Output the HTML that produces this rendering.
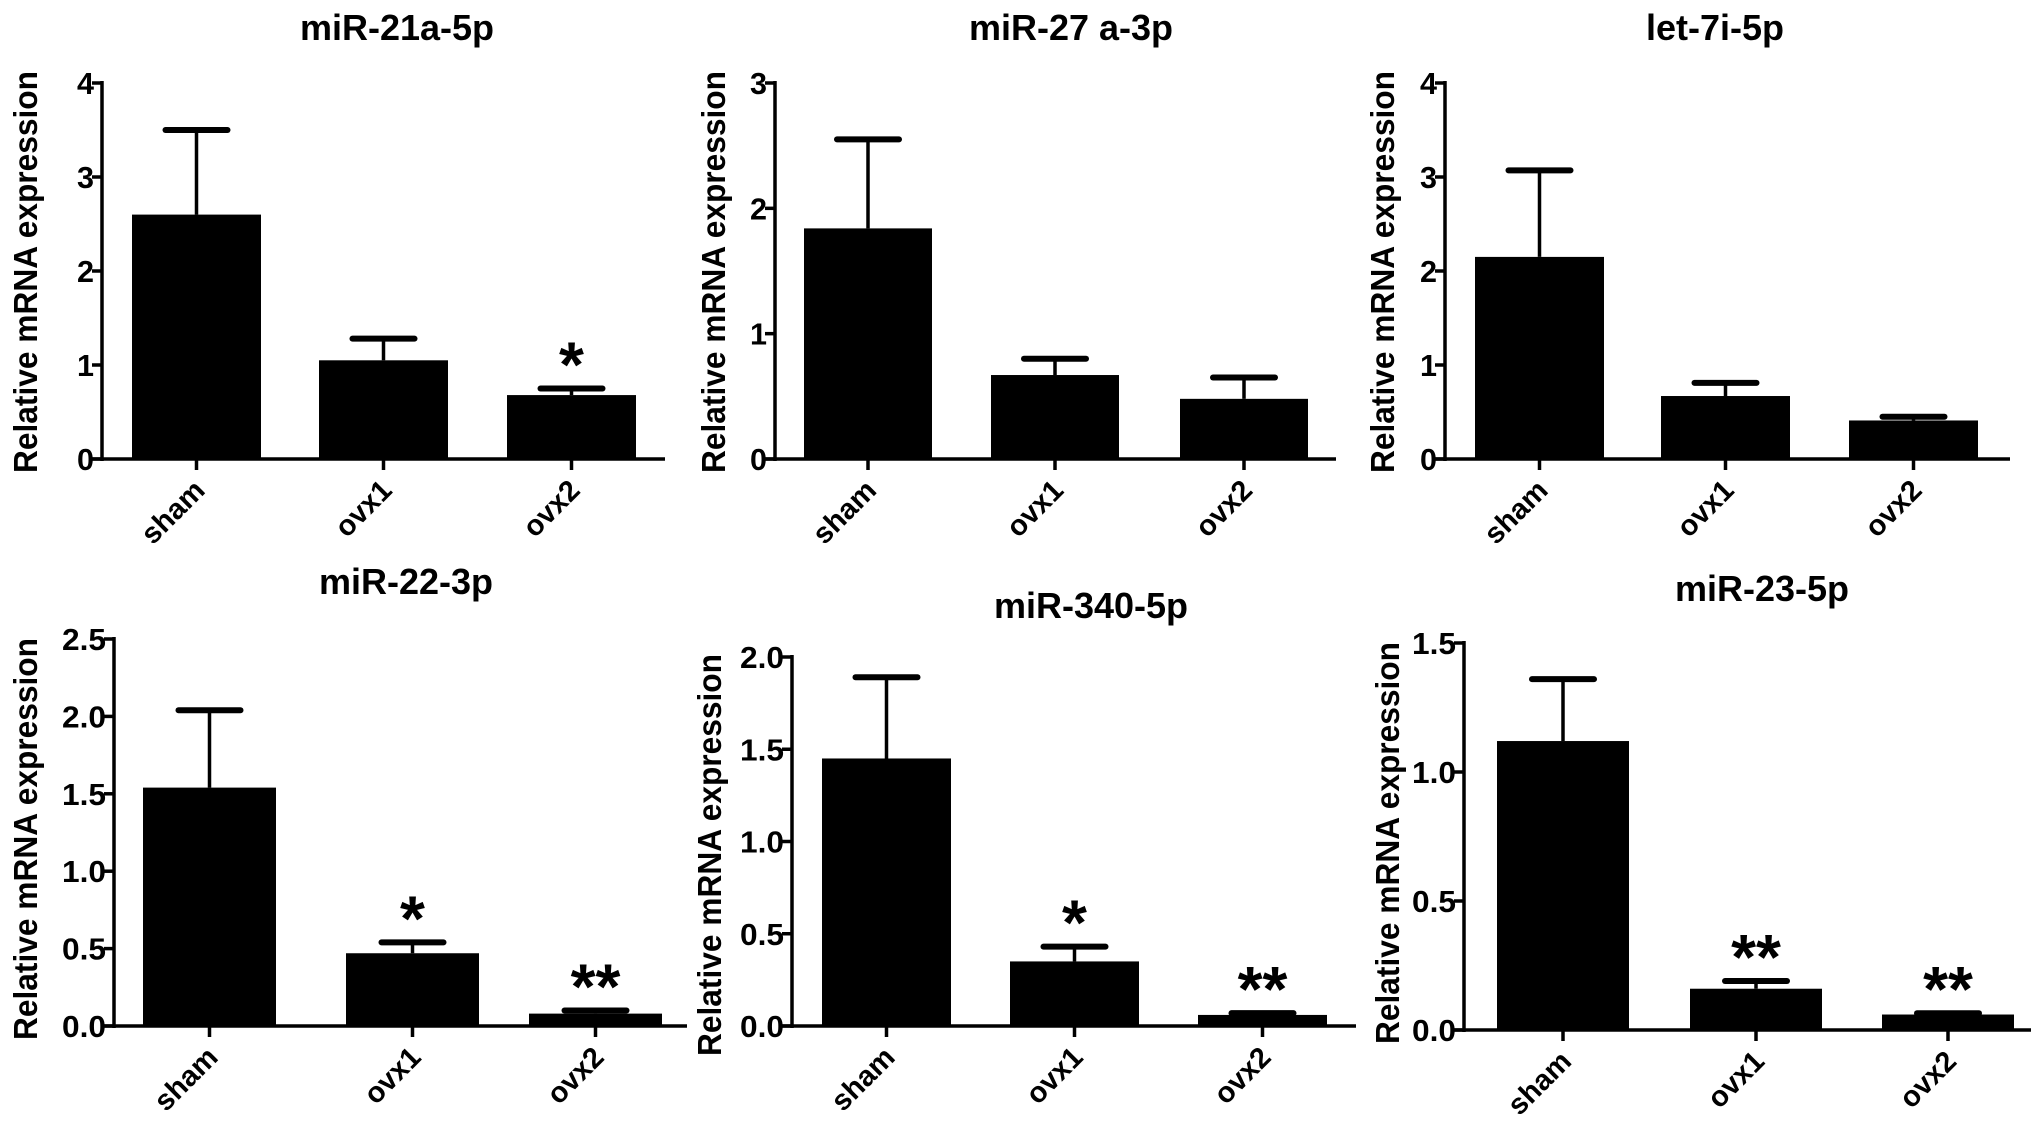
<!DOCTYPE html>
<html><head><meta charset="utf-8"><style>
html,body{margin:0;padding:0;background:#fff;overflow:hidden;}
svg{display:block;font-family:"Liberation Sans",Arial,sans-serif;font-weight:bold;}
</style></head>
<body>
<svg id="fig" width="2031" height="1139" viewBox="0 0 2031 1139" xmlns="http://www.w3.org/2000/svg"></svg>
<script>
const categories = ["sham","ovx1","ovx2"];
const titles = ["miR-21a-5p","miR-27 a-3p","let-7i-5p","miR-22-3p","miR-340-5p","miR-23-5p"];
const means21 = [2.6, 1.05, 0.68];
const errs21 = [3.5, 1.28, 0.75];
const means27 = [1.84, 0.67, 0.48];
const errs27 = [2.55, 0.80, 0.65];
const meansLet7 = [2.15, 0.67, 0.41];
const errsLet7 = [3.07, 0.81, 0.45];
const means22 = [1.54, 0.47, 0.08];
const errs22 = [2.04, 0.54, 0.10];
const means340 = [1.45, 0.35, 0.06];
const errs340 = [1.89, 0.43, 0.07];
const means23 = [1.12, 0.16, 0.06];
const errs23 = [1.36, 0.19, 0.065];
const sig21 = ["","","*"];
const sig27 = ["","",""];
const sigLet7 = ["","",""];
const sig22 = ["","*","**"];
const sig340 = ["","*","**"];
const sig23 = ["","**","**"];
const ticks4 = ["0","1","2","3","4"];
const ticks3 = ["0","1","2","3"];
const ticks25 = ["0.0","0.5","1.0","1.5","2.0","2.5"];
const ticks20 = ["0.0","0.5","1.0","1.5","2.0"];
const ticks15 = ["0.0","0.5","1.0","1.5"];

const NS="http://www.w3.org/2000/svg";
const svg=document.getElementById('fig');
function mk(tag,attrs,parent){const e=document.createElementNS(NS,tag);for(const k in attrs)e.setAttribute(k,attrs[k]);(parent||svg).appendChild(e);return e;}

const panels=[
 {t:0,m:means21,e:errs21,s:sig21,ticks:ticks4,ax:102,top:83,bot:459,xe:665,bars:[132,319,507],bw:129,tx:397,ty:40,lx:25,ly:272},
 {t:1,m:means27,e:errs27,s:sig27,ticks:ticks3,ax:775,top:83,bot:459,xe:1336,bars:[804,991,1180],bw:128,tx:1071,ty:40,lx:713,ly:272},
 {t:2,m:meansLet7,e:errsLet7,s:sigLet7,ticks:ticks4,ax:1445,top:83,bot:459,xe:2010,bars:[1475,1661,1849],bw:129,tx:1715,ty:40,lx:1382,ly:272},
 {t:3,m:means22,e:errs22,s:sig22,ticks:ticks25,ax:114,top:639,bot:1026,xe:687,bars:[143,346,529],bw:133,tx:406,ty:594,lx:25,ly:839},
 {t:4,m:means340,e:errs340,s:sig340,ticks:ticks20,ax:792,top:657,bot:1026,xe:1356,bars:[822,1010,1198],bw:129,tx:1091,ty:618,lx:709,ly:855},
 {t:5,m:means23,e:errs23,s:sig23,ticks:ticks15,ax:1464,top:643,bot:1030,xe:2031,bars:[1497,1690,1882],bw:132,tx:1762,ty:601,lx:1387,ly:843}
];

panels.forEach((p,pi)=>{
  const g=mk('g',{});
  
  
  const ymax=parseFloat(p.ticks[p.ticks.length-1]);
  const y=v=>p.bot-(v/ymax)*(p.bot-p.top);
  const t=mk('text',{x:p.tx,y:p.ty,'text-anchor':'middle','font-size':36},g);
  t.textContent=titles[p.t];
  
  
  const yl=mk('text',{x:0,y:0,'text-anchor':'middle','font-size':33,transform:`translate(${p.lx+12},${p.ly}) rotate(-90)`,textLength:402,lengthAdjust:'spacingAndGlyphs'},g);
  yl.textContent='Relative mRNA expression';
  
  
  const ya=mk('line',{x1:p.ax,y1:p.top-2,x2:p.ax,y2:p.bot+2,stroke:'#000','stroke-width':3.5},g);
  
  
  const xa=mk('line',{x1:p.ax-12,y1:p.bot,x2:p.xe,y2:p.bot,stroke:'#000','stroke-width':3.5},g);
  
  
  p.ticks.forEach(tv=>{
    const yy=y(parseFloat(tv));
    mk('line',{x1:p.ax-10,y1:yy,x2:p.ax,y2:yy,stroke:'#000','stroke-width':3.5},g);
    const tl=mk('text',{x:p.ax-8,y:yy+11,'text-anchor':'end','font-size':31,textLength:tv.length>1?44:17,lengthAdjust:'spacingAndGlyphs'},g);
    tl.textContent=tv;
    
    
  });
  categories.forEach((c,i)=>{
    const x0=p.bars[i], cx=x0+p.bw/2;
    const top=y(p.m[i]), et=y(p.e[i]);
    const el=mk('line',{x1:cx,y1:top,x2:cx,y2:et,stroke:'#000','stroke-width':3.5},g);
    
    
    const cap=mk('line',{x1:cx-31,y1:et,x2:cx+31,y2:et,stroke:'#000','stroke-width':6,'stroke-linecap':'round'},g);
    
    
    const r=mk('rect',{x:x0,y:top,width:p.bw,height:p.bot-top,fill:'#000'},g);
    
    
    mk('line',{x1:cx,y1:p.bot,x2:cx,y2:p.bot+11,stroke:'#000','stroke-width':3.5},g);
    const xl=mk('text',{x:0,y:0,'text-anchor':'end','font-size':29,transform:`translate(${cx+10},${p.bot+33}) rotate(-45)`},g);
    xl.textContent=c;
    
    
    if(p.s[i]){
      const st=mk('text',{x:cx,y:et-38+36,'text-anchor':'middle','font-size':64},g);
      st.textContent=p.s[i];
      
      
    }
  });
});
</script>
</body></html>
